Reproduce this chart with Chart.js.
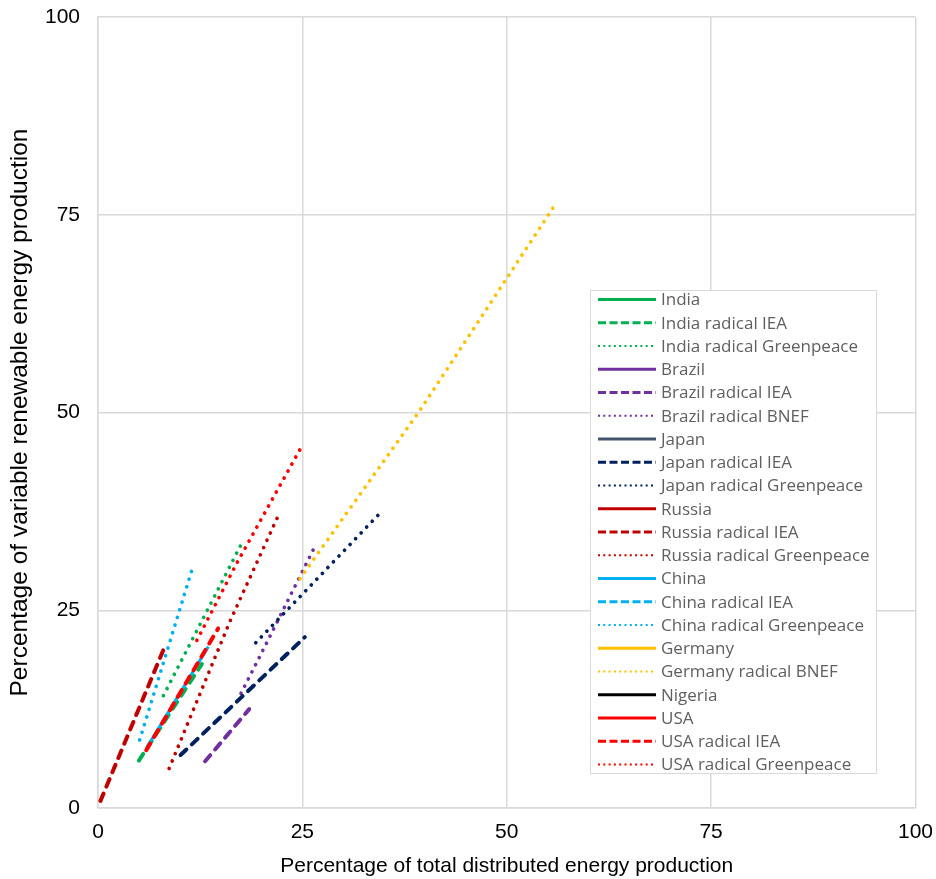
<!DOCTYPE html>
<html>
<head>
<meta charset="utf-8">
<script src="https://cdn.jsdelivr.net/npm/chart.js@4/dist/chart.umd.min.js"></script>
<style>
  body { margin: 0; background: #ffffff; }
  #caixa { width: 936px; height: 879px; }
</style>
</head>
<body>
<div id="caixa"><canvas id="grafico"></canvas></div>
<script>
// [x, y] pairs, one array per series
const india = [];
const indiaIEA = [[5.0, 6.0], [12.7, 18.2]];
const indiaGreenpeace = [[8.0, 14.2], [17.8, 33.9]];
const brazil = [];
const brazilIEA = [[13.1, 5.9], [18.5, 12.5]];
const brazilBNEF = [[17.5, 14.5], [20.4, 20.4], [26.5, 33.0]];
const japan = [];
const japanIEA = [[10.1, 6.7], [25.3, 21.6]];
const japanGreenpeace = [[19.3, 20.9], [24.7, 26.7], [34.8, 37.6]];
const russia = [];
const russiaIEA = [[0.3, 0.9], [8.0, 20.0]];
const russiaGreenpeace = [[8.7, 5.0], [16.1, 23.5], [22.2, 37.3]];
const china = [[6.0, 7.7], [13.5, 20.4]];
const chinaIEA = [];
const chinaGreenpeace = [[5.1, 8.6], [11.7, 30.8]];
const germany = [];
const germanyBNEF = [[24.7, 29.0], [39.4, 50.3], [56.0, 76.4]];
const nigeria = [];
const usa = [];
const usaIEA = [[5.9, 7.3], [14.7, 22.7]];
const usaGreenpeace = [[12.1, 21.2], [17.0, 31.0], [24.7, 45.3]];

const nomes = [
  'India', 'India radical IEA', 'India radical Greenpeace',
  'Brazil', 'Brazil radical IEA', 'Brazil radical BNEF',
  'Japan', 'Japan radical IEA', 'Japan radical Greenpeace',
  'Russia', 'Russia radical IEA', 'Russia radical Greenpeace',
  'China', 'China radical IEA', 'China radical Greenpeace',
  'Germany', 'Germany radical BNEF',
  'Nigeria',
  'USA', 'USA radical IEA', 'USA radical Greenpeace'
];
const series = [
  india, indiaIEA, indiaGreenpeace,
  brazil, brazilIEA, brazilBNEF,
  japan, japanIEA, japanGreenpeace,
  russia, russiaIEA, russiaGreenpeace,
  china, chinaIEA, chinaGreenpeace,
  germany, germanyBNEF,
  nigeria,
  usa, usaIEA, usaGreenpeace
];
const tracos = [
  'solid', 'dash', 'dot',
  'solid', 'dash', 'dot',
  'solid', 'dash', 'dot',
  'solid', 'dash', 'dot',
  'solid', 'dash', 'dot',
  'solid', 'dot',
  'solid',
  'solid', 'dash', 'dot'
];
const cores = [
  '#00b050', '#00b050', '#00b050',
  '#7030a0', '#7030a0', '#7030a0',
  '#44546a', '#002060', '#002060',
  '#c00000', '#c00000', '#c00000',
  '#00b0f0', '#00b0f0', '#00b0f0',
  '#ffc000', '#ffc000',
  '#000000',
  '#ff0000', '#ff0000', '#ff0000'
];
const ticksEixo = [0, 25, 50, 75, 100];

function montarDatasets() {
  let lista = [];
  for (let i = 0; i < series.length; i++) {
    let ds = {
      label: nomes[i],
      data: series[i].map(p => ({ x: p[0], y: p[1] })),
      showLine: true,
      pointRadius: 0,
      borderColor: cores[i],
      backgroundColor: cores[i],
      fill: false,
      order: series.length - i
    };
    if (tracos[i] == 'solid') {
      ds.borderWidth = 3;
    } else if (tracos[i] == 'dash') {
      ds.borderWidth = 4;
      ds.borderDash = [8, 7.5];
      ds.borderCapStyle = 'round';
    } else {
      ds.borderWidth = 3.7;
      ds.borderDash = [0.01, 8];
      ds.borderCapStyle = 'round';
    }
    lista.push(ds);
  }
  return lista;
}

// legend box drawn by hand, at the spot it sits in the picture
const legendaPlugin = {
  id: 'legendaCaixa',
  afterDraw(chart) {
    const ctx = chart.ctx;
    const x0 = 590, y0 = 290, larg = 286, alt = 483;
    ctx.save();
    ctx.fillStyle = '#ffffff';
    ctx.fillRect(x0, y0, larg, alt);
    ctx.strokeStyle = '#d9d9d9';
    ctx.lineWidth = 1;
    ctx.strokeRect(x0 + 0.5, y0 + 0.5, larg, alt);
    ctx.font = '17px "Open Sans"';
    ctx.textBaseline = 'middle';
    for (let i = 0; i < nomes.length; i++) {
      const y = 299.5 + i * 23.25;
      ctx.beginPath();
      ctx.strokeStyle = cores[i];
      if (tracos[i] == 'solid') {
        ctx.lineWidth = 3;
        ctx.setLineDash([]);
      } else if (tracos[i] == 'dash') {
        ctx.lineWidth = 3;
        ctx.setLineDash([8, 3.5]);
      } else {
        ctx.lineWidth = 2;
        ctx.setLineDash([2, 3.3]);
      }
      ctx.moveTo(598, y);
      ctx.lineTo(656, y);
      ctx.stroke();
      ctx.setLineDash([]);
      ctx.fillStyle = '#606060';
      ctx.fillText(nomes[i], 661, y + 1);
    }
    ctx.restore();
  }
};

function criarGrafico() {
  const ctx = document.getElementById('grafico');
  new Chart(ctx, {
    type: 'scatter',
    data: { datasets: montarDatasets() },
    options: {
      responsive: true,
      maintainAspectRatio: false,
      animation: false,
      layout: { padding: { left: 0, right: 20, top: 17, bottom: 0 } },
      plugins: {
        legend: { display: false },
        tooltip: { enabled: false }
      },
      scales: {
        x: {
          type: 'linear',
          min: 0,
          max: 100,
          afterBuildTicks: (scale) => { scale.ticks = ticksEixo.map(v => ({ value: v })); },
          afterFit: (scale) => { scale.height = 71; },
          grid: { color: '#d9d9d9', lineWidth: 1.5, drawTicks: true, tickLength: 9, tickColor: 'rgba(0,0,0,0)' },
          border: { color: '#d9d9d9', width: 1.5 },
          ticks: {
            color: '#000000',
            padding: 3,
            maxRotation: 0,
            font: { family: 'Liberation Sans', size: 21 }
          },
          title: {
            display: true,
            text: 'Percentage of total distributed energy production',
            color: '#000000',
            padding: { top: 0, bottom: 2.5 },
            font: { family: 'Liberation Sans', size: 21, lineHeight: 1 }
          }
        },
        y: {
          type: 'linear',
          min: 0,
          max: 100,
          afterBuildTicks: (scale) => { scale.ticks = ticksEixo.map(v => ({ value: v })); },
          afterFit: (scale) => { scale.width = 98; },
          grid: { color: '#d9d9d9', lineWidth: 1.5, drawTicks: true, tickLength: 14, tickColor: 'rgba(0,0,0,0)' },
          border: { color: '#d9d9d9', width: 1.5 },
          ticks: {
            color: '#000000',
            padding: 4,
            font: { family: 'Liberation Sans', size: 21 }
          },
          title: {
            display: true,
            text: 'Percentage of variable renewable energy production',
            color: '#000000',
            padding: { top: 8, bottom: 0 },
            font: { family: 'Liberation Sans', size: 24.5, lineHeight: 1 }
          }
        }
      }
    },
    plugins: [legendaPlugin]
  });
}

criarGrafico()
</script>
</body>
</html>
